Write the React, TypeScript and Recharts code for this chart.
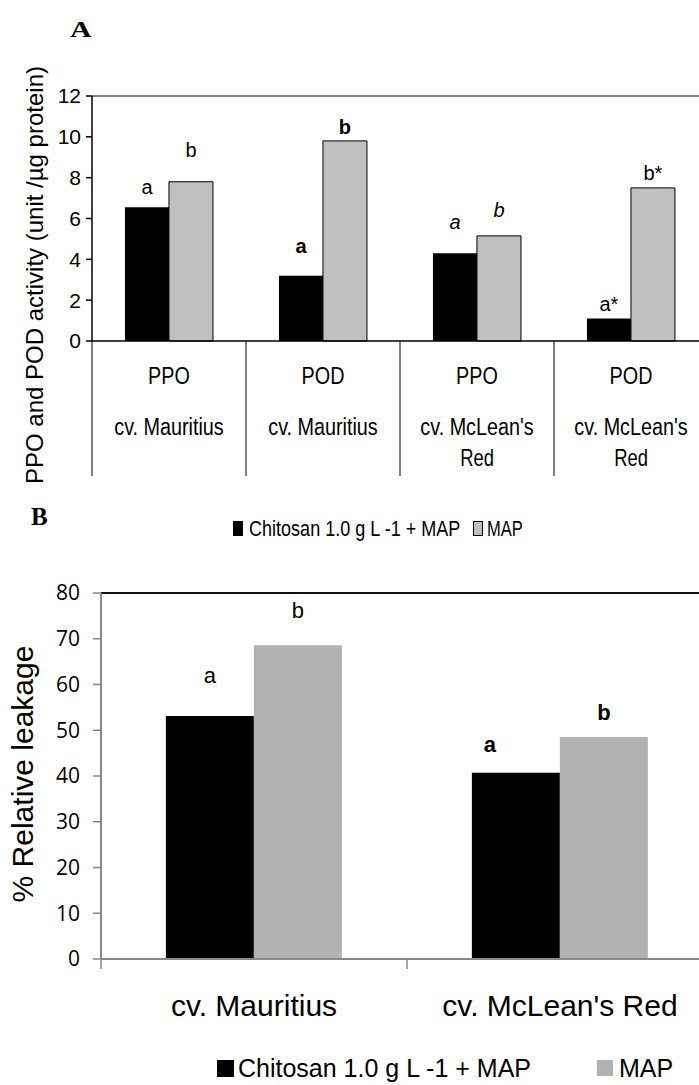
import React from "react";
import { BarChart, Bar, XAxis, YAxis, ReferenceLine, LabelList, Legend } from "recharts";

// panel A: PPO / POD activity
const enzymes = ["PPO", "POD", "PPO", "POD"];
const enzymeCultivars = ["cv. Mauritius", "cv. Mauritius", "cv. McLean's Red", "cv. McLean's Red"];
const chitosanActivity = [6.55, 3.2, 4.3, 1.1];
const mapActivity = [7.8, 9.8, 5.15, 7.5];
const chitosanActivityLetters = ["a", "a", "a", "a*"];
const mapActivityLetters = ["b", "b", "b", "b*"];
const activityTicks = [0, 2, 4, 6, 8, 10, 12];

// panel B: relative leakage
const cultivars = ["cv. Mauritius", "cv. McLean's Red"];
const chitosanLeakage = [53.1, 40.7];
const mapLeakage = [68.6, 48.5];
const chitosanLeakageLetters = ["a", "a"];
const mapLeakageLetters = ["b", "b"];
const leakageTicks = [0, 10, 20, 30, 40, 50, 60, 70, 80];

const seriesNames = ["Chitosan 1.0 g L -1 + MAP", "MAP"];

const activityData = enzymes.map((e, i) => ({
  name: `${e} ${enzymeCultivars[i]}`,
  chitosan: chitosanActivity[i],
  map: mapActivity[i],
}));
const leakageData = cultivars.map((c, i) => ({
  name: c,
  chitosan: chitosanLeakage[i],
  map: mapLeakage[i],
}));

const SANS = "'Liberation Sans', Arial, sans-serif";

// letter styling / placement (label offsets above the bar top)
const activityStyle = [{}, { fontWeight: "bold" }, { fontStyle: "italic" }, {}];
const chitActivityLift = [20, 30, 31, 15];
const mapActivityLift = [32, 14, 26, 15];
const leakageStyle = [{}, { fontWeight: "bold" }];
const chitLeakLift = [41, 28];
const chitLeakDx = [0, -26];
const mapLeakLift = [35, 25];

const BAND_A = 154;
const BAND_B = 306;

// panel A text is squeezed horizontally in the original
const Narrow = ({ x, y, size, anchor = "middle", sx = 0.85, children }: any) => (
  <text
    transform={`translate(${x} ${y}) scale(${sx} 1)`}
    x={0}
    y={0}
    textAnchor={anchor}
    dominantBaseline="central"
    fontFamily={SANS}
    fontSize={size}
    fill="#000"
  >
    {children}
  </text>
);

const letterLabel =
  (letters: string[], lift: number[], styles: any[], size: number, dx: number[] = []) =>
  (p: any) => {
    const vb = p.viewBox ?? p;
    const x = Number(vb.x ?? p.x);
    const y = Number(vb.y ?? p.y);
    const w = Number(vb.width ?? p.width);
    const i = p.index;
    return (
      <text
        x={x + w / 2 + (dx[i] || 0)}
        y={y - lift[i]}
        textAnchor="middle"
        dominantBaseline="central"
        fontFamily={SANS}
        fontSize={size}
        fill="#000"
        style={styles[i]}
      >
        {letters[i]}
      </text>
    );
  };

const splitLabel = (s: string) => {
  if (s.length <= 13) return [s];
  const k = s.lastIndexOf(" ");
  return [s.slice(0, k), s.slice(k + 1)];
};

const ActivityTick = (props: any) => {
  const { x, y, payload } = props;
  const i = payload.index;
  const half = BAND_A / 2;
  const lines = splitLabel(enzymeCultivars[i]);
  return (
    <g>
      <line x1={x - half} y1={y} x2={x - half} y2={y + 135} stroke="#000" strokeWidth={1} />
      {i === enzymes.length - 1 && (
        <line x1={x + half} y1={y} x2={x + half} y2={y + 135} stroke="#000" strokeWidth={1} />
      )}
      <Narrow x={x} y={y + 35} size={23} sx={0.86}>
        {enzymes[i]}
      </Narrow>
      {lines.map((t, k) => (
        <Narrow key={k} x={x} y={y + 86 + k * 31} size={23} sx={k === 0 ? 0.86 : 0.8}>
          {t}
        </Narrow>
      ))}
    </g>
  );
};

const LeakageTick = (props: any) => {
  const { x, y, payload } = props;
  const i = payload.index;
  const half = BAND_B / 2;
  return (
    <g>
      <line x1={x - half} y1={y} x2={x - half} y2={y + 10} stroke="#888" strokeWidth={1.5} />
      {i === cultivars.length - 1 && (
        <line x1={x + half} y1={y} x2={x + half} y2={y + 10} stroke="#888" strokeWidth={1.5} />
      )}
      <text x={x} y={y + 46} textAnchor="middle" dominantBaseline="central" fontFamily={SANS} fontSize={30} fill="#000">
        {cultivars[i]}
      </text>
    </g>
  );
};

const LegendA = () => (
  <svg width={699} height={40}>
    <rect x={233} y={12} width={10} height={15} fill="#000" />
    <Narrow x={249} y={19} size={22} anchor="start" sx={0.82}>
      {seriesNames[0]}
    </Narrow>
    <rect x={473.5} y={12.5} width={9} height={14} fill="#c0c0c0" stroke="#000" strokeWidth={1} />
    <Narrow x={487} y={19} size={22} anchor="start" sx={0.75}>
      {seriesNames[1]}
    </Narrow>
  </svg>
);

const LegendB = () => (
  <svg width={699} height={38}>
    <rect x={217} y={14} width={17} height={17} fill="#000" />
    <text x={238} y={22} dominantBaseline="central" fontFamily={SANS} fontSize={25} fill="#000">
      {seriesNames[0]}
    </text>
    <rect x={597} y={14} width={16} height={16} fill="#b2b2b2" />
    <text x={619} y={22} dominantBaseline="central" fontFamily={SANS} fontSize={25} fill="#000">
      {seriesNames[1]}
    </text>
  </svg>
);

export default function App() {
  return (
    <div style={{ position: "relative", width: 699, height: 1085, overflow: "hidden", background: "#fff" }}>
      <style>{"body{margin:0}"}</style>

      <div
        style={{
          position: "absolute",
          left: 70,
          top: 18,
          fontFamily: "'Liberation Serif', serif",
          fontWeight: "bold",
          fontSize: 23,
          lineHeight: 1,
          transform: "scaleX(1.3)",
          transformOrigin: "left top",
        }}
      >
        A
      </div>
      <div style={{ position: "absolute", left: 31, top: 504, fontFamily: "'Liberation Serif', serif", fontWeight: "bold", fontSize: 25, lineHeight: 1 }}>
        B
      </div>

      <div style={{ position: "absolute", left: 0, top: 0 }}>
        <BarChart
          width={712}
          height={545}
          data={activityData}
          margin={{ top: 96, right: 4, left: 52, bottom: 64 }}
          barCategoryGap="21.4%"
          barGap={0}
        >
          <XAxis
            dataKey="name"
            height={140}
            interval={0}
            tickSize={0}
            tickMargin={0}
            tickLine={false}
            axisLine={{ stroke: "#000", strokeWidth: 1.5 }}
            tick={<ActivityTick />}
          />
          <YAxis
            width={40}
            domain={[0, 12]}
            ticks={activityTicks}
            interval={0}
            tickSize={6}
            tickMargin={5}
            axisLine={{ stroke: "#000", strokeWidth: 1.5 }}
            tickLine={{ stroke: "#000", strokeWidth: 1.5 }}
            tick={{ fill: "#000", fontSize: 21, fontFamily: SANS }}
            label={{
              content: () => (
                <text x={34} y={275} transform="rotate(-90 34 275)" textAnchor="middle" dominantBaseline="central" fontFamily={SANS} fontSize={24} fill="#000">
                  PPO and POD activity (unit /µg protein)
                </text>
              ),
            }}
          />
          <ReferenceLine y={12} stroke="#808080" strokeWidth={2} />
          <Bar dataKey="chitosan" name={seriesNames[0]} fill="#000" isAnimationActive={false}>
            <LabelList content={letterLabel(chitosanActivityLetters, chitActivityLift, activityStyle, 20)} />
          </Bar>
          <Bar dataKey="map" name={seriesNames[1]} fill="#c0c0c0" stroke="#000" strokeWidth={1} isAnimationActive={false}>
            <LabelList content={letterLabel(mapActivityLetters, mapActivityLift, activityStyle, 20)} />
          </Bar>
          <Legend
            layout="vertical"
            align="center"
            verticalAlign="middle"
            wrapperStyle={{ position: "absolute", left: 0, top: 509, width: 699, height: 40 }}
            content={() => <LegendA />}
          />
        </BarChart>
      </div>

      <div style={{ position: "absolute", left: 0, top: 560 }}>
        <BarChart
          width={716}
          height={525}
          data={leakageData}
          margin={{ top: 33, right: 3, left: 61, bottom: 66 }}
          barCategoryGap="21.2%"
          barGap={0}
        >
          <XAxis
            dataKey="name"
            height={60}
            interval={0}
            tickSize={0}
            tickMargin={0}
            tickLine={false}
            axisLine={{ stroke: "#888", strokeWidth: 2 }}
            tick={<LeakageTick />}
          />
          <YAxis
            width={40}
            domain={[0, 80]}
            ticks={leakageTicks}
            interval={0}
            tickSize={8}
            tickMargin={13}
            axisLine={{ stroke: "#888", strokeWidth: 2 }}
            tickLine={{ stroke: "#888", strokeWidth: 1.5 }}
            tick={{ fill: "#000", fontSize: 21, fontFamily: "'Open Sans', sans-serif" }}
            label={{
              content: () => (
                <text x={22} y={214} transform="rotate(-90 22 214)" textAnchor="middle" dominantBaseline="central" fontFamily={SANS} fontSize={30} fill="#000">
                  % Relative leakage
                </text>
              ),
            }}
          />
          <ReferenceLine y={80} stroke="#111" strokeWidth={2} />
          <Bar dataKey="chitosan" name={seriesNames[0]} fill="#000" isAnimationActive={false}>
            <LabelList content={letterLabel(chitosanLeakageLetters, chitLeakLift, leakageStyle, 22, chitLeakDx)} />
          </Bar>
          <Bar dataKey="map" name={seriesNames[1]} fill="#b2b2b2" isAnimationActive={false}>
            <LabelList content={letterLabel(mapLeakageLetters, mapLeakLift, leakageStyle, 22)} />
          </Bar>
          <Legend
            layout="vertical"
            align="center"
            verticalAlign="middle"
            wrapperStyle={{ position: "absolute", left: 0, top: 486, width: 699, height: 38 }}
            content={() => <LegendB />}
          />
        </BarChart>
      </div>
    </div>
  );
}
